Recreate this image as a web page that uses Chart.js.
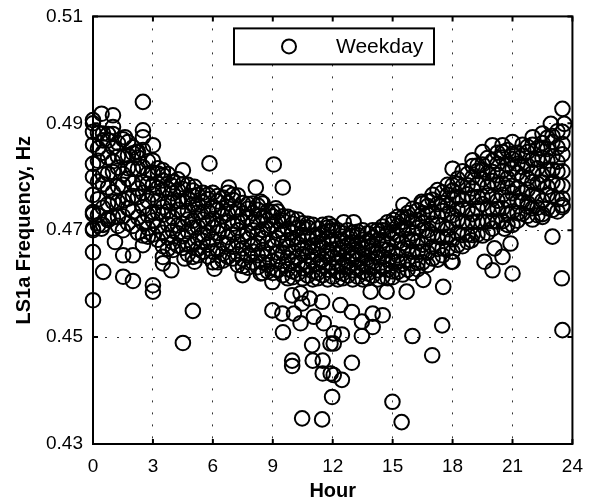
<!DOCTYPE html>
<html>
<head>
<meta charset="utf-8">
<script src="https://cdn.jsdelivr.net/npm/chart.js@4.4.1/dist/chart.umd.min.js"></script>
<style>
  html, body { margin: 0; padding: 0; background: #fff; overflow: hidden; width: 589px; height: 504px; }
  /* slightly oversized box: Chart.js keeps ~20px around the plot, the figure keeps 15px */
  #wrap { width: 594px; height: 509px; position: absolute; left: 0; top: -5px; }
</style>
</head>
<body>
<div id="wrap"><canvas id="chart"></canvas></div>
<script>
// column hours of the dense band
const bandHours = [
  0, 0.25, 0.5, 0.75, 1, 1.25, 1.5, 1.75, 2, 2.25, 2.5, 2.75,
  3, 3.25, 3.5, 3.75, 4, 4.25, 4.5, 4.75, 5, 5.25, 5.5, 5.75,
  6, 6.25, 6.5, 6.75, 7, 7.25, 7.5, 7.75, 8, 8.25, 8.5, 8.75,
  9, 9.25, 9.5, 9.75, 10, 10.25, 10.5, 10.75, 11, 11.25, 11.5, 11.75,
  12, 12.25, 12.5, 12.75, 13, 13.25, 13.5, 13.75, 14, 14.25, 14.5, 14.75,
  15, 15.25, 15.5, 15.75, 16, 16.25, 16.5, 16.75, 17, 17.25, 17.5, 17.75,
  18, 18.25, 18.5, 18.75, 19, 19.25, 19.5, 19.75, 20, 20.25, 20.5, 20.75,
  21, 21.25, 21.5, 21.75, 22, 22.25, 22.5, 22.75, 23, 23.25, 23.5
];

// frequencies read per column (Hz)
const bandFreqs = [
  [0.4700, 0.4730, 0.4766, 0.4800, 0.4824, 0.4860, 0.4900],
  [0.4709, 0.4728, 0.4758, 0.4791, 0.4830, 0.4853, 0.4882],
  [0.4710, 0.4742, 0.4786, 0.4804, 0.4845, 0.4868, 0.4881],
  [0.4719, 0.4749, 0.4780, 0.4806, 0.4836, 0.4868, 0.4880],
  [0.4724, 0.4753, 0.4771, 0.4809, 0.4829, 0.4855, 0.4880],
  [0.4708, 0.4725, 0.4753, 0.4782, 0.4817, 0.4838, 0.4863],
  [0.4700, 0.4726, 0.4756, 0.4785, 0.4805, 0.4836, 0.4870],
  [0.4713, 0.4741, 0.4759, 0.4796, 0.4816, 0.4840, 0.4865],
  [0.4708, 0.4735, 0.4764, 0.4788, 0.4815, 0.4844, 0.4855],
  [0.4695, 0.4724, 0.4762, 0.4778, 0.4815, 0.4836, 0.4847],
  [0.4690, 0.4714, 0.4743, 0.4770, 0.4789, 0.4818, 0.4850],
  [0.4688, 0.4704, 0.4728, 0.4755, 0.4787, 0.4806, 0.4829],
  [0.4692, 0.4718, 0.4734, 0.4767, 0.4785, 0.4808, 0.4830],
  [0.4682, 0.4707, 0.4733, 0.4755, 0.4779, 0.4806, 0.4816],
  [0.4670, 0.4695, 0.4729, 0.4743, 0.4775, 0.4793, 0.4803],
  [0.4665, 0.4686, 0.4711, 0.4735, 0.4752, 0.4777, 0.4805],
  [0.4663, 0.4677, 0.4699, 0.4723, 0.4752, 0.4769, 0.4790],
  [0.4671, 0.4694, 0.4709, 0.4738, 0.4755, 0.4775, 0.4795],
  [0.4667, 0.4689, 0.4712, 0.4732, 0.4754, 0.4777, 0.4786],
  [0.4655, 0.4675, 0.4698, 0.4720, 0.4736, 0.4759, 0.4785],
  [0.4650, 0.4673, 0.4705, 0.4718, 0.4748, 0.4764, 0.4774],
  [0.4653, 0.4665, 0.4685, 0.4706, 0.4733, 0.4748, 0.4766],
  [0.4660, 0.4680, 0.4693, 0.4720, 0.4734, 0.4752, 0.4770],
  [0.4651, 0.4673, 0.4695, 0.4714, 0.4735, 0.4758, 0.4766],
  [0.4640, 0.4660, 0.4683, 0.4705, 0.4721, 0.4744, 0.4770],
  [0.4640, 0.4663, 0.4695, 0.4708, 0.4738, 0.4754, 0.4764],
  [0.4643, 0.4656, 0.4676, 0.4699, 0.4726, 0.4741, 0.4761],
  [0.4650, 0.4673, 0.4687, 0.4715, 0.4731, 0.4751, 0.4770],
  [0.4647, 0.4669, 0.4692, 0.4712, 0.4734, 0.4757, 0.4766],
  [0.4635, 0.4655, 0.4678, 0.4700, 0.4716, 0.4739, 0.4765],
  [0.4633, 0.4646, 0.4666, 0.4689, 0.4716, 0.4731, 0.4751],
  [0.4630, 0.4653, 0.4683, 0.4695, 0.4724, 0.4740, 0.4749],
  [0.4640, 0.4660, 0.4673, 0.4700, 0.4714, 0.4732, 0.4750],
  [0.4631, 0.4653, 0.4675, 0.4694, 0.4715, 0.4738, 0.4746],
  [0.4620, 0.4640, 0.4663, 0.4685, 0.4701, 0.4724, 0.4750],
  [0.4623, 0.4635, 0.4655, 0.4676, 0.4703, 0.4718, 0.4736],
  [0.4620, 0.4642, 0.4670, 0.4682, 0.4710, 0.4726, 0.4734],
  [0.4625, 0.4645, 0.4658, 0.4685, 0.4699, 0.4717, 0.4735],
  [0.4616, 0.4636, 0.4658, 0.4676, 0.4696, 0.4718, 0.4726],
  [0.4610, 0.4627, 0.4648, 0.4668, 0.4681, 0.4702, 0.4725],
  [0.4612, 0.4623, 0.4641, 0.4660, 0.4683, 0.4696, 0.4712],
  [0.4619, 0.4638, 0.4650, 0.4674, 0.4687, 0.4704, 0.4720],
  [0.4610, 0.4629, 0.4655, 0.4666, 0.4691, 0.4705, 0.4713],
  [0.4615, 0.4633, 0.4652, 0.4668, 0.4686, 0.4705, 0.4712],
  [0.4608, 0.4623, 0.4642, 0.4659, 0.4671, 0.4690, 0.4710],
  [0.4610, 0.4620, 0.4637, 0.4654, 0.4675, 0.4688, 0.4703],
  [0.4616, 0.4634, 0.4645, 0.4667, 0.4679, 0.4695, 0.4710],
  [0.4608, 0.4626, 0.4651, 0.4661, 0.4684, 0.4698, 0.4705],
  [0.4613, 0.4630, 0.4649, 0.4664, 0.4681, 0.4700, 0.4707],
  [0.4608, 0.4622, 0.4638, 0.4654, 0.4665, 0.4682, 0.4700],
  [0.4610, 0.4619, 0.4634, 0.4649, 0.4669, 0.4680, 0.4694],
  [0.4615, 0.4631, 0.4641, 0.4661, 0.4672, 0.4686, 0.4700],
  [0.4608, 0.4625, 0.4647, 0.4656, 0.4677, 0.4689, 0.4695],
  [0.4613, 0.4628, 0.4645, 0.4659, 0.4674, 0.4691, 0.4697],
  [0.4608, 0.4622, 0.4638, 0.4654, 0.4665, 0.4682, 0.4700],
  [0.4610, 0.4619, 0.4634, 0.4649, 0.4669, 0.4680, 0.4694],
  [0.4615, 0.4631, 0.4641, 0.4661, 0.4672, 0.4686, 0.4700],
  [0.4608, 0.4625, 0.4649, 0.4658, 0.4681, 0.4693, 0.4700],
  [0.4613, 0.4630, 0.4649, 0.4664, 0.4681, 0.4700, 0.4707],
  [0.4610, 0.4626, 0.4645, 0.4663, 0.4675, 0.4694, 0.4715],
  [0.4612, 0.4623, 0.4641, 0.4660, 0.4683, 0.4696, 0.4712],
  [0.4622, 0.4641, 0.4653, 0.4678, 0.4691, 0.4708, 0.4725],
  [0.4617, 0.4637, 0.4664, 0.4676, 0.4702, 0.4716, 0.4724],
  [0.4626, 0.4645, 0.4666, 0.4683, 0.4703, 0.4724, 0.4732],
  [0.4620, 0.4638, 0.4660, 0.4680, 0.4694, 0.4716, 0.4740],
  [0.4627, 0.4639, 0.4659, 0.4679, 0.4704, 0.4719, 0.4737],
  [0.4640, 0.4660, 0.4673, 0.4700, 0.4714, 0.4732, 0.4750],
  [0.4635, 0.4658, 0.4688, 0.4700, 0.4729, 0.4745, 0.4754],
  [0.4647, 0.4669, 0.4692, 0.4712, 0.4734, 0.4757, 0.4766],
  [0.4645, 0.4665, 0.4688, 0.4710, 0.4726, 0.4749, 0.4775],
  [0.4653, 0.4666, 0.4686, 0.4709, 0.4736, 0.4751, 0.4771],
  [0.4665, 0.4688, 0.4702, 0.4730, 0.4746, 0.4766, 0.4785],
  [0.4660, 0.4683, 0.4715, 0.4728, 0.4758, 0.4774, 0.4784],
  [0.4672, 0.4695, 0.4719, 0.4739, 0.4762, 0.4787, 0.4796],
  [0.4670, 0.4691, 0.4716, 0.4740, 0.4757, 0.4782, 0.4810],
  [0.4678, 0.4692, 0.4714, 0.4738, 0.4767, 0.4784, 0.4805],
  [0.4691, 0.4715, 0.4730, 0.4761, 0.4778, 0.4799, 0.4820],
  [0.4692, 0.4716, 0.4741, 0.4762, 0.4786, 0.4811, 0.4821],
  [0.4690, 0.4715, 0.4749, 0.4763, 0.4795, 0.4813, 0.4823],
  [0.4695, 0.4716, 0.4741, 0.4765, 0.4782, 0.4807, 0.4835],
  [0.4703, 0.4717, 0.4739, 0.4763, 0.4792, 0.4809, 0.4830],
  [0.4716, 0.4740, 0.4755, 0.4786, 0.4803, 0.4824, 0.4845],
  [0.4717, 0.4741, 0.4766, 0.4787, 0.4811, 0.4836, 0.4846],
  [0.4710, 0.4731, 0.4756, 0.4780, 0.4797, 0.4822, 0.4850],
  [0.4710, 0.4735, 0.4769, 0.4783, 0.4815, 0.4833, 0.4843],
  [0.4718, 0.4732, 0.4754, 0.4778, 0.4807, 0.4824, 0.4845],
  [0.4731, 0.4755, 0.4770, 0.4801, 0.4818, 0.4839, 0.4860],
  [0.4727, 0.4751, 0.4776, 0.4797, 0.4821, 0.4846, 0.4856],
  [0.4720, 0.4741, 0.4766, 0.4790, 0.4807, 0.4832, 0.4860],
  [0.4728, 0.4742, 0.4764, 0.4787, 0.4816, 0.4833, 0.4853],
  [0.4730, 0.4755, 0.4789, 0.4803, 0.4835, 0.4853, 0.4863],
  [0.4741, 0.4766, 0.4781, 0.4813, 0.4830, 0.4852, 0.4873],
  [0.4738, 0.4763, 0.4790, 0.4813, 0.4838, 0.4865, 0.4876],
  [0.4735, 0.4758, 0.4785, 0.4810, 0.4828, 0.4855, 0.4885],
  [0.4743, 0.4759, 0.4783, 0.4810, 0.4842, 0.4861, 0.4884]
];

// scattered readings away from the band
const outlierHours = [
  0.00, 0.43, 1.00, 1.00, 0.00, 2.50, 2.50, 2.50, 1.60, 3.00, 2.17, 3.50, 4.50, 5.83, 9.05, 9.50, 3.92, 5.08, 6.80, 8.15,
  0.00, 0.00, 0.00, 0.00, 0.51, 1.10, 1.51, 2.00, 1.51, 2.00, 2.50, 3.00, 3.00, 3.50, 3.92, 3.50, 0.76, 0.43, 4.58, 5.08, 5.00, 4.50,
  6.08, 7.49, 8.40, 8.98, 9.97, 10.39, 10.85, 8.98, 9.48, 9.51, 9.97, 9.97, 10.97, 11.00, 11.50, 11.50, 11.90, 11.97, 10.47, 11.47,
  10.06, 10.39, 11.06, 11.47, 11.55, 11.89, 10.47, 12.38, 12.96, 13.46, 14.00, 14.50, 14.00, 13.46, 12.46, 12.05, 12.05, 12.96,
  12.46, 12.05, 15.99, 17.48, 16.98, 14.99, 15.45, 23.50,
  9.97, 8.40, 9.15, 11.80, 15.54, 16.45, 15.04, 12.55, 13.05,
  17.53, 16.53, 15.70, 14.70, 13.90, 17.94, 18.94, 18.00, 19.60, 20.50, 20.90, 20.60, 20.10, 20.00, 21.00, 23.00, 23.47, 21.76, 22.50, 23.50,
  23.50, 23.59, 22.92, 22.50, 22.01, 21.00, 20.50, 20.00, 19.50, 19.00, 18.00
];
const outlierFreqs = [
  0.4906, 0.4918, 0.4915, 0.4893, 0.4884, 0.4940, 0.4887, 0.4874, 0.4874, 0.4859, 0.4846, 0.4812, 0.4812, 0.4825, 0.4823, 0.4780, 0.4784, 0.4781, 0.4780, 0.4780,
  0.4734, 0.4703, 0.4659, 0.4569, 0.4622, 0.4678, 0.4653, 0.4653, 0.4613, 0.4605, 0.4672, 0.4597, 0.4585, 0.4650, 0.4625, 0.4638, 0.4722, 0.4703, 0.4647, 0.4641, 0.4549, 0.4489,
  0.4628, 0.4616, 0.4619, 0.4603, 0.4578, 0.4582, 0.4572, 0.4550, 0.4544, 0.4509, 0.4456, 0.4446, 0.4485, 0.4456, 0.4456, 0.4432, 0.4432, 0.4388, 0.4348, 0.4346,
  0.4544, 0.4526, 0.4538, 0.4566, 0.4526, 0.4488, 0.4563, 0.4560, 0.4547, 0.4529, 0.4544, 0.4541, 0.4519, 0.4502, 0.4505, 0.4507, 0.4488, 0.4452,
  0.4420, 0.4429, 0.4502, 0.4522, 0.4466, 0.4379, 0.4341, 0.4513,
  0.4722, 0.4753, 0.4741, 0.4712, 0.4747, 0.4753, 0.4719, 0.4715, 0.4715,
  0.4594, 0.4607, 0.4585, 0.4585, 0.4585, 0.4641, 0.4681, 0.4641, 0.4641, 0.4650, 0.4675, 0.4703, 0.4666, 0.4625, 0.4619, 0.4688, 0.4610, 0.4744, 0.4725, 0.4747,
  0.4927, 0.4899, 0.4899, 0.4881, 0.4874, 0.4865, 0.4859, 0.4859, 0.4846, 0.4831, 0.4815
];

const xTicks = [0, 3, 6, 9, 12, 15, 18, 21, 24];
const yTicks = [0.43, 0.45, 0.47, 0.49, 0.51];

const points = [];
bandHours.forEach((h, i) => bandFreqs[i].forEach((f) => points.push({ x: h, y: f })));
outlierHours.forEach((h, i) => points.push({ x: h, y: outlierFreqs[i] }));

const FONT = "'Liberation Sans', Arial, Helvetica, sans-serif";

// matlab-style frame with inward ticks
const framePlugin = {
  id: "frame",
  afterDraw(chart) {
    const ctx = chart.ctx;
    const a = chart.chartArea;
    const xs = chart.scales.x, ys = chart.scales.y;
    ctx.save();
    ctx.strokeStyle = "#000";
    ctx.lineWidth = 2;
    ctx.beginPath();
    xTicks.forEach((t) => {
      const px = xs.getPixelForValue(t);
      ctx.moveTo(px, a.bottom); ctx.lineTo(px, a.bottom - 5);
      ctx.moveTo(px, a.top); ctx.lineTo(px, a.top + 5);
    });
    yTicks.forEach((t) => {
      const py = ys.getPixelForValue(t);
      ctx.moveTo(a.left, py); ctx.lineTo(a.left + 5, py);
      ctx.moveTo(a.right, py); ctx.lineTo(a.right - 5, py);
    });
    ctx.stroke();
    ctx.strokeRect(a.left, a.top, a.right - a.left, a.bottom - a.top);
    ctx.restore();
  },
};

// legend box inside the axes, placed from the plot's top-left corner
const legendPlugin = {
  id: "boxLegend",
  afterDraw(chart) {
    const ctx = chart.ctx;
    const a = chart.chartArea;
    const bx = a.left + 141, by = a.top + 12;
    ctx.save();
    ctx.fillStyle = "#fff";
    ctx.fillRect(bx, by, 200, 36);
    ctx.strokeStyle = "#000";
    ctx.lineWidth = 2;
    ctx.strokeRect(bx, by, 200, 36);
    ctx.beginPath();
    ctx.arc(bx + 55, by + 18, 7, 0, Math.PI * 2);
    ctx.stroke();
    ctx.fillStyle = "#000";
    ctx.font = "21px " + FONT;
    ctx.textBaseline = "middle";
    ctx.fillText("Weekday", bx + 102, by + 19);
    ctx.restore();
  },
};

new Chart(document.getElementById("chart"), {
  type: "scatter",
  data: {
    datasets: [{
      label: "Weekday",
      data: points,
      showLine: false,
      pointStyle: "circle",
      pointRadius: 7.3,
      pointBorderWidth: 2,
      borderColor: "#000",
      backgroundColor: "rgba(0,0,0,0)",
      clip: false,
    }],
  },
  options: {
    responsive: true,
    maintainAspectRatio: false,
    animation: false,
    layout: { autoPadding: false, padding: { left: 0, right: 15, top: 15, bottom: 0 } },
    plugins: { legend: { display: false }, tooltip: { enabled: false } },
    scales: {
      x: {
        type: "linear",
        min: 0,
        max: 24,
        afterFit: (s) => { s.height = 60; },
        afterBuildTicks: (s) => { s.ticks = xTicks.map((v) => ({ value: v })); },
        ticks: { color: "#000", padding: 11, font: { family: FONT, size: 19 }, maxRotation: 0 },
        grid: { color: "#333", lineWidth: 1, drawTicks: false },
        border: { display: false, dash: [2, 10] },
        title: { display: true, text: "Hour", color: "#000", padding: { top: 0, bottom: 1 }, font: { family: FONT, size: 20, weight: "bold" } },
      },
      y: {
        min: 0.43,
        max: 0.51,
        afterFit: (s) => { s.width = 93; },
        afterBuildTicks: (s) => { s.ticks = yTicks.map((v) => ({ value: v })); },
        ticks: { color: "#000", padding: 10, font: { family: FONT, size: 19 }, callback: (v) => v.toFixed(2) },
        grid: { color: "#333", lineWidth: 1, drawTicks: false },
        border: { display: false, dash: [2, 10] },
        title: { display: true, text: "LS1a Frequency, Hz", color: "#000", padding: { top: 12, bottom: 0 }, font: { family: FONT, size: 20, weight: "bold" } },
      },
    },
  },
  plugins: [framePlugin, legendPlugin],
});
</script>
</body>
</html>
